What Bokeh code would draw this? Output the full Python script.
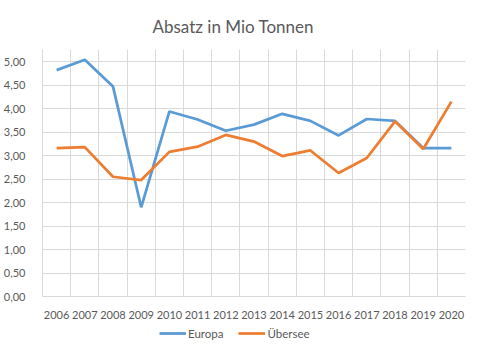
from bokeh.plotting import figure
from bokeh.layouts import column
from bokeh.models import FixedTicker, Legend, LegendItem, ColumnDataSource
from bokeh.embed import file_html
from bokeh.resources import INLINE

years = ["2006", "2007", "2008", "2009", "2010", "2011", "2012", "2013",
         "2014", "2015", "2016", "2017", "2018", "2019", "2020"]
europa = [4.82, 5.04, 4.47, 1.90, 3.94, 3.77, 3.53, 3.66, 3.89, 3.74, 3.43, 3.78, 3.74, 3.16, 3.16]
uebersee = [3.16, 3.18, 2.55, 2.48, 3.08, 3.19, 3.44, 3.30, 2.99, 3.11, 2.63, 2.95, 3.73, 3.14, 4.15]
y_ticks = [0.0, 0.5, 1.0, 1.5, 2.0, 2.5, 3.0, 3.5, 4.0, 4.5, 5.0]
series_names = ["Europa", "Übersee"]
series_colors = ["#5B9BD5", "#ED7D31"]

FONT = "Lato"
GREY = "#595959"
GRID = "#d9d9d9"

idx = list(range(len(years)))
src = ColumnDataSource(dict(x=idx, eu=europa, ue=uebersee))

p = figure(frame_width=423, frame_height=247, output_backend="svg", toolbar_location=None,
           x_range=(-0.5, len(years) - 0.5), y_range=(0, 5.26),
           min_border_left=36, min_border_right=25, min_border_top=49,
           min_border_bottom=29, outline_line_color=None,
           background_fill_color="white", border_fill_color="white")

p.title.text = "Absatz in Mio Tonnen"
p.title.text_font = FONT
p.title.text_font_size = "17px"
p.title.text_font_style = "normal"
p.title.text_color = GREY
p.title.align = "left"
p.title.offset = 110
p.title.standoff = 24
p.title.vertical_align = "middle"

r1 = p.line("x", "eu", source=src, line_color=series_colors[0], line_width=2.75)
r2 = p.line("x", "ue", source=src, line_color=series_colors[1], line_width=2.75)

# x axis
p.xaxis.ticker = FixedTicker(ticks=idx)
p.xaxis.major_label_overrides = {i: y for i, y in enumerate(years)}
p.xaxis.major_tick_line_color = None
p.xaxis.minor_tick_line_color = None
p.xaxis.axis_line_color = GRID
p.xaxis.major_label_text_font = FONT
p.xaxis.major_label_text_font_size = "11px"
p.xaxis.major_label_text_color = GREY
p.xaxis.major_label_standoff = 8

# y axis
p.yaxis.ticker = FixedTicker(ticks=y_ticks)
p.yaxis.major_label_overrides = {t: f"{t:.2f}".replace(".", ",") for t in y_ticks}
p.yaxis.major_tick_line_color = None
p.yaxis.minor_tick_line_color = None
p.yaxis.axis_line_color = GRID
p.yaxis.major_label_text_font = FONT
p.yaxis.major_label_text_font_size = "11px"
p.yaxis.major_label_text_color = GREY
p.yaxis.major_label_standoff = 11

# grids
p.xgrid.ticker = FixedTicker(ticks=[i + 0.5 for i in idx])
p.xgrid.grid_line_color = GRID
p.ygrid.ticker = FixedTicker(ticks=y_ticks)
p.ygrid.grid_line_color = GRID

# legend strip below the chart (series drawn out of view; only the legend shows)
lf = figure(width=484, height=30, output_backend="svg", toolbar_location=None,
            x_range=(-0.5, len(years) - 0.5), y_range=(100, 101), min_border=0,
            outline_line_color=None, background_fill_color="white",
            border_fill_color="white")
lf.axis.visible = False
lf.grid.visible = False
lr = [lf.line("x", col, source=src, line_color=c, line_width=2.75)
      for col, c in zip(["eu", "ue"], series_colors)]
legend = Legend(items=[LegendItem(label=n, renderers=[r]) for n, r in zip(series_names, lr)],
                orientation="horizontal", location=(117, 15),
                border_line_color=None, background_fill_alpha=0,
                label_text_font=FONT, label_text_font_size="11.5px",
                label_text_color=GREY, glyph_width=27, glyph_height=14,
                label_height=14, spacing=15, label_standoff=2, padding=0, margin=0)
lf.add_layout(legend, "center")

layout = column(p, lf, spacing=0)
open("out.html", "w").write(file_html(layout, INLINE))
